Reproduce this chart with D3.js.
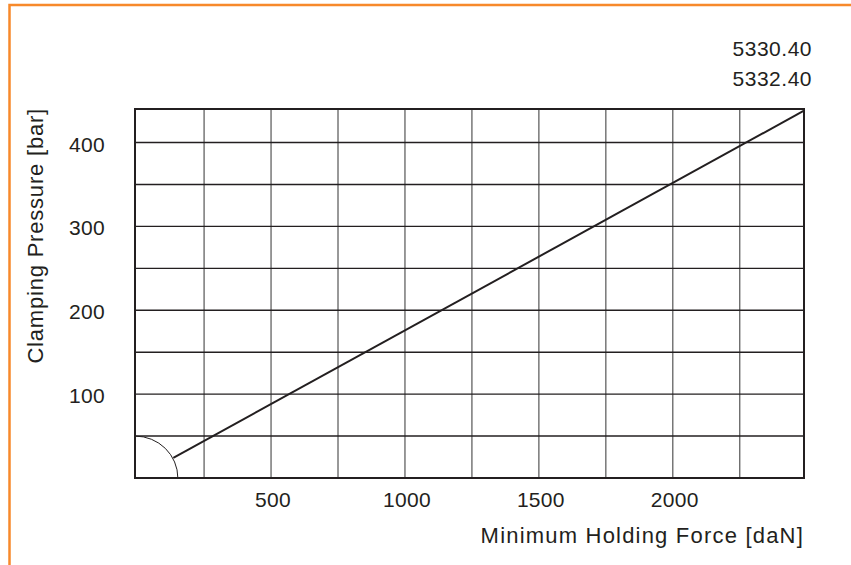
<!DOCTYPE html>
<html>
<head>
<meta charset="utf-8">
<script src="https://d3js.org/d3.v7.min.js"></script>
<style>
  body { margin: 0; background: #fff; }
  text { font-family: "Liberation Sans", Arial, sans-serif; fill: #231f20; }
</style>
</head>
<body>
<div id="chart"></div>
<script>
// Chart data
const forceLine = [135, 2490];        // daN
const pressureLine = [24, 438];       // bar
const xTicks = [500, 1000, 1500, 2000];
const yTicks = [100, 200, 300, 400];
const xGrid = [250, 500, 750, 1000, 1250, 1500, 1750, 2000, 2250];
const yGrid = [50, 100, 150, 200, 250, 300, 350, 400];
const modelLabels = ["5330.40", "5332.40"];

const width = 851;
const height = 565;
const margin = { top: 109, right: 47, bottom: 87, left: 135 };

const svg = d3.select("#chart")
    .append("svg")
    .attr("width", width)
    .attr("height", height);

// orange frame (top and left only)
svg.append("path")
    .attr("d", `M9.5,${height} V5 H${width}`)
    .attr("fill", "none")
    .attr("stroke", "#f7892b")
    .attr("stroke-width", 2.5);

const x = d3.scaleLinear()
    .domain([-8, 2490])
    .range([margin.left, width - margin.right]);

const y = d3.scaleLinear()
    .domain([0, 440])
    .range([height - margin.bottom, margin.top]);

// vertical grid
svg.selectAll(".vgrid")
    .data(xGrid)
    .enter()
    .append("line")
    .attr("x1", d => x(d))
    .attr("x2", d => x(d))
    .attr("y1", y(0))
    .attr("y2", y(440))
    .attr("stroke", "#6d6d6d")
    .attr("stroke-width", 1.4);

// horizontal grid
svg.selectAll(".hgrid")
    .data(yGrid)
    .enter()
    .append("line")
    .attr("x1", x(-8))
    .attr("x2", x(2490))
    .attr("y1", d => y(d))
    .attr("y2", d => y(d))
    .attr("stroke", "#231f20")
    .attr("stroke-width", 1.4);

// plot frame
svg.append("rect")
    .attr("x", x(-8))
    .attr("y", y(440))
    .attr("width", x(2490) - x(-8))
    .attr("height", y(0) - y(440))
    .attr("fill", "none")
    .attr("stroke", "#231f20")
    .attr("stroke-width", 2);

// quarter circle at origin
const rx = x(152) - x(-8);
const ry = y(0) - y(50);
svg.append("path")
    .attr("d", `M${x(-8)},${y(0) - ry} A${rx},${ry} 0 0 1 ${x(-8) + rx},${y(0)}`)
    .attr("fill", "none")
    .attr("stroke", "#231f20")
    .attr("stroke-width", 1);

// characteristic line
const lineData = forceLine.map((f, i) => ({ f: f, p: pressureLine[i] }));
svg.append("path")
    .datum(lineData)
    .attr("d", d3.line().x(d => x(d.f)).y(d => y(d.p)))
    .attr("fill", "none")
    .attr("stroke", "#231f20")
    .attr("stroke-width", 2);

// tick labels
svg.selectAll(".xlab")
    .data(xTicks)
    .enter()
    .append("text")
    .attr("x", d => x(d) + 2)
    .attr("y", 507)
    .attr("text-anchor", "middle")
    .attr("font-size", 21)
    .attr("letter-spacing", 0.3)
    .text(d => d);

svg.selectAll(".ylab")
    .data(yTicks)
    .enter()
    .append("text")
    .attr("x", 105)
    .attr("y", d => y(d) + 9)
    .attr("text-anchor", "end")
    .attr("font-size", 21)
    .attr("letter-spacing", 0.3)
    .text(d => d);

// axis titles
svg.append("text")
    .attr("x", x(2490))
    .attr("y", 543)
    .attr("text-anchor", "end")
    .attr("font-size", 22)
    .attr("letter-spacing", 1.2)
    .text("Minimum Holding Force [daN]");

svg.append("text")
    .attr("transform", `translate(43,${y(440) - 1}) rotate(-90)`)
    .attr("text-anchor", "end")
    .attr("font-size", 22)
    .attr("letter-spacing", 0.8)
    .text("Clamping Pressure [bar]");

// model numbers
svg.selectAll(".model")
    .data(modelLabels)
    .enter()
    .append("text")
    .attr("x", 812)
    .attr("y", (d, i) => 56 + i * 30)
    .attr("text-anchor", "end")
    .attr("font-size", 21)
    .attr("letter-spacing", 0.5)
    .text(d => d);
</script>
</body>
</html>
